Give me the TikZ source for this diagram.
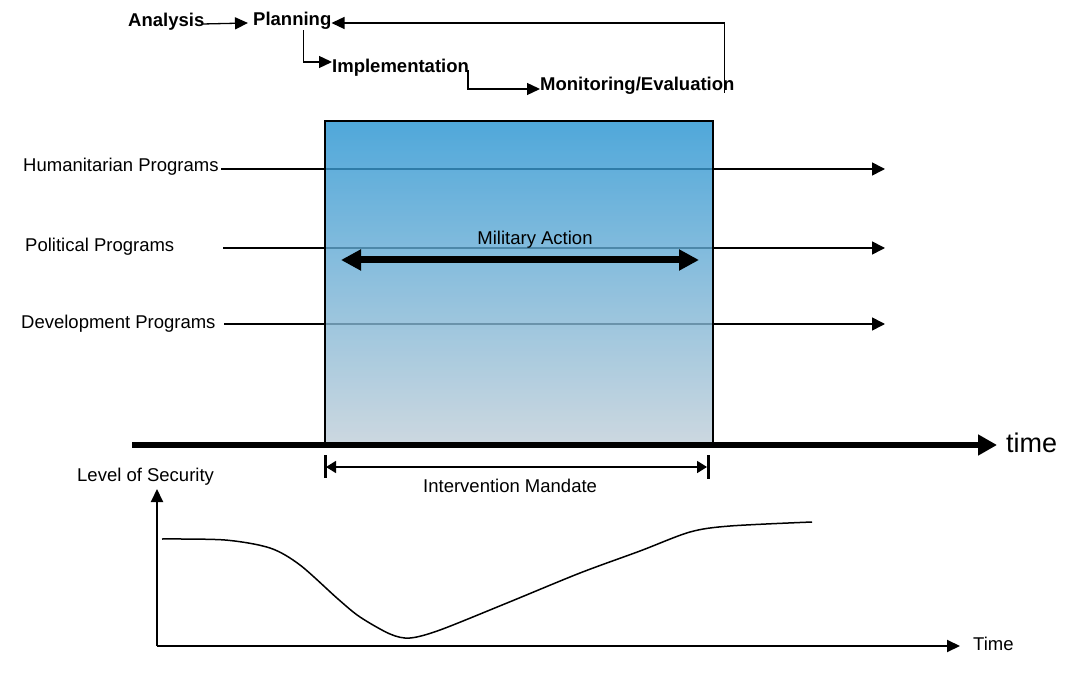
\documentclass[tikz,border=0pt]{standalone}
\usepackage{fontspec}
\setmainfont{Liberation Sans}
\usetikzlibrary{arrows.meta}
\definecolor{boxtop}{RGB}{36,146,209}
\definecolor{boxbot}{RGB}{192,206,216}
\begin{document}
\begin{tikzpicture}[x=1pt,y=-1pt,
  lbl/.style={inner sep=0pt, font=\fontsize{18.5}{22}\selectfont},
  blbl/.style={inner sep=0pt, font=\fontsize{18.5}{22}\selectfont\bfseries},
  flow/.style={line width=1.3pt, -{Triangle[length=13pt,width=12pt]}},
  prog/.style={line width=1.6pt, -{Triangle[length=13pt,width=13pt]}},
  taxis/.style={line width=6pt, -{Triangle[length=19pt,width=20pt]}},
  milarrow/.style={line width=7pt, {Triangle[length=20pt,width=20pt]}-{Triangle[length=20pt,width=20pt]}},
  mandate/.style={line width=1.6pt, {Triangle[length=10pt,width=12pt]}-{Triangle[length=10pt,width=12pt]}},
  barline/.style={line width=3pt},
  axisline/.style={line width=2pt, -{Triangle[length=13pt,width=12pt]}},
  curve/.style={line width=1.5pt}]
\useasboundingbox (0,0) rectangle (1065,684);

% top process flow
\node[blbl, anchor=base west] (ana) at (128,27) {Analysis};
\node[blbl, anchor=base west] (pl) at (253,26) {Planning};
\node[blbl, anchor=base west] (im) at (332,73) {Implementation};
\node[blbl, anchor=base west] (mon) at (540,91) {Monitoring/Evaluation};

\draw[flow] ([xshift=-2pt,yshift=3pt]ana.base east) -- ([xshift=-5pt,yshift=3pt]pl.base west);
\draw[flow] ([xshift=11pt]pl.south) |- ([yshift=11pt]im.base west);
\draw[flow] ([xshift=-1pt,yshift=3pt]im.base east) |- ([yshift=2pt]mon.base west);
\draw[flow] ([xshift=-10pt,yshift=-2pt]mon.base east) |- ([yshift=3pt]pl.base east);

% program labels
\node[lbl, anchor=base west] (hum) at (23,172) {Humanitarian Programs};
\node[lbl, anchor=base west] (pol) at (25,252) {Political Programs};
\node[lbl, anchor=base west] (dev) at (21,329) {Development Programs};

\coordinate (humS) at (221,169);
\coordinate (humE) at (885,169);
\coordinate (polS) at (223,248);
\coordinate (polE) at (885,248);
\coordinate (devS) at (224,324);
\coordinate (devE) at (885,324);

\draw[prog] (humS) -- (humE);
\draw[prog] (polS) -- (polE);
\draw[prog] (devS) -- (devE);

% intervention box
\shade[top color=boxtop, bottom color=boxbot, fill opacity=0.8] (325,121) rectangle (713,445);
\draw[line width=1.5pt] (325,445) -- (325,121) -- (713,121) -- (713,445);

% military action
\node[lbl, anchor=base] (mil) at (535,245) {Military Action};
\coordinate (milL) at (341,260);
\coordinate (milR) at (699,260);
\draw[milarrow] (milL) -- (milR);

% time axis
\coordinate (tS) at (132,445);
\coordinate (tE) at (997,445);
\draw[taxis] (tS) -- (tE);
\node[inner sep=0pt, font=\fontsize{27}{30}\selectfont, anchor=base west] (tlbl) at (1006,452) {time};

% intervention mandate
\coordinate (ivL) at (325,467);
\coordinate (ivR) at (708,467);
\draw[barline] ([yshift=12pt]ivL) -- ([yshift=-11pt]ivL);
\draw[barline] ([yshift=12pt]ivR) -- ([yshift=-12pt]ivR);
\draw[mandate] ([xshift=1pt]ivL) -- ([xshift=-1pt]ivR);
\node[lbl, anchor=base west] (ivlbl) at (423,492) {Intervention Mandate};

% level of security chart
\node[lbl, anchor=base west] (los) at (77,481) {Level of Security};
\coordinate (org) at (157,646);
\coordinate (ytop) at (157,489);
\coordinate (xend) at (960,646);
\draw[axisline] (org) -- (ytop);
\draw[axisline] (org) -- (xend);
\node[lbl, anchor=base west] (tm) at (973,650) {Time};

\draw[curve] plot[smooth, tension=0.5] coordinates {
 (162,539) (225,540) (270,548) (300,565) (338,599) (360,617) (390,634) (410,638)
 (440,630) (507,603) (580,573) (640,551) (690,532) (730,526) (812,522)};
\end{tikzpicture}
\end{document}
